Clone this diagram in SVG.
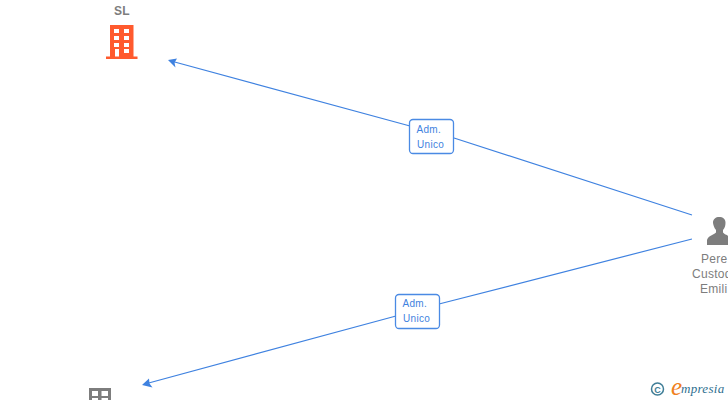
<svg xmlns="http://www.w3.org/2000/svg" width="728" height="400" viewBox="0 0 728 400">
<defs>
<style>
.edge{fill:none;stroke:#3f82e0;stroke-width:1.2}
.head{fill:#3f82e0;stroke:none}
.lb{fill:#fff;stroke:#4a8ae4;stroke-width:1.300}
.lt{font:10px "Liberation Sans",sans-serif;fill:#3f82e0;letter-spacing:.3px}
.nt{font:12px "Liberation Sans",sans-serif;fill:#7d7d7d;letter-spacing:.3px}
</style>
</defs>
<rect width="728" height="400" fill="#fff"/>
<g id="connectors">
<path class="edge" d="M692 215L454 138M410 126L171 61"/>
<polygon class="head" points="168,60 177,58.500 174.500,62.800 175.500,67.500"/>
<path class="edge" d="M692 239L439 304M396 316L145 384"/>
<polygon class="head" points="142,385 149,378.500 149.500,383.500 152.500,387.500"/>
<g id="label-1">
<rect class="lb" x="409.500" y="119.500" width="44" height="34" rx="3.500"/>
<text class="lt" x="416.500" y="133">Adm.</text>
<text class="lt" x="417" y="148">Unico</text>
</g>
<g id="label-2">
<rect class="lb" x="395.500" y="294.500" width="44" height="34" rx="3.500"/>
<text class="lt" x="402.500" y="307">Adm.</text>
<text class="lt" x="403" y="322">Unico</text>
</g>
</g>
<g id="node-sl">
<text x="122" y="15" text-anchor="middle" style="font:bold 12px 'Liberation Sans',sans-serif;fill:#7d7d7d;letter-spacing:.3px">SL</text>
<path fill="#ff5a2e" fill-rule="evenodd" d="M110 25H133.500V56.500H137.500V59H106V56.500H110ZM114 29V33H119V29ZM124 29V33H129V29ZM114 36V40H119V36ZM124 36V40H129V36ZM114 43V47H119V43ZM124 43V47H129V43ZM115 49V56.500H119V49ZM124 49V53H129V49Z"/>
</g>
<g id="node-person">
<path fill="#7d7d7d" d="M707 245V240C708 236 713 235 716 232.500V230C714 228 713 224 713 222.500C713 219 716 217 719 217C723 217 725.500 219 725.500 222.500C725.500 225 725 228 723 230V232.500C725 235 728 235 728 236V245Z"/>
<text class="nt" x="701" y="263">Pere</text>
<text class="nt" x="692" y="278">Custod</text>
<text class="nt" x="700" y="293">Emili</text>
</g>
<g id="node-bottom">
<path fill="#7d7d7d" fill-rule="evenodd" d="M89 388H111V400H89ZM92 391V396H98V391ZM101.500 391V396H108V391ZM92 398V400H98V398ZM101.500 398V400H108V398Z"/>
</g>
<g id="logo">
<circle cx="657.500" cy="389" r="6" fill="none" stroke="#3f7d96" stroke-width="1.500"/>
<text x="657.500" y="392.500" text-anchor="middle" style="font:bold 9px 'Liberation Sans',sans-serif;fill:#3f7d96">C</text>
<text x="671" y="395" style="font:italic 25px 'Liberation Serif',serif;fill:#f08020">e</text>
<text x="681" y="393" style="font:italic 13px 'Liberation Serif',serif;fill:#2f6f8f;letter-spacing:.3px">mpresia</text>
</g>
</svg>
